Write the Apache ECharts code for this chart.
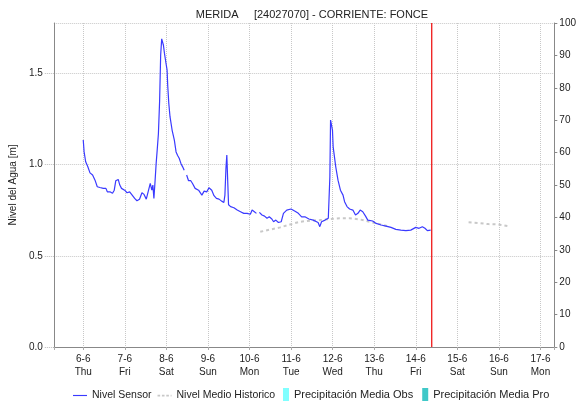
<!DOCTYPE html>
<html>
<head>
<meta charset="utf-8">
<script src="https://cdn.jsdelivr.net/npm/echarts@6/dist/echarts.min.js"></script>
<style>html,body{margin:0;padding:0;background:#fff;}#c{width:579px;height:402px;}</style>
</head>
<body>
<div id="c"></div>
<script>
// ---- data (hours counted from 6-6 00:00) ----
const titleText = 'MERIDA     [24027070] - CORRIENTE: FONCE';
const dayLabels = ['6-6','7-6','8-6','9-6','10-6','11-6','12-6','13-6','14-6','15-6','16-6','17-6'];
const weekdayLabels = ['Thu','Fri','Sat','Sun','Mon','Tue','Wed','Thu','Fri','Sat','Sun','Mon'];
const leftTicks = [0, 0.5, 1.0, 1.5];
const rightTicks = [0,10,20,30,40,50,60,70,80,90,100];

const sensorHours = [
  0, 0.5, 1.4, 2.6, 3.9, 5.4, 6.8, 8.1, 9.6, 11.6,
  13.1, 13.9, 15.4, 16.9, 17.9, 18.8, 20.2, 21.1, 22.1, 23.9,
  25.3, 26.8, 27.8, 29.7, 31.0, 32.5, 33.9, 35.1, 36.4, 37.3,
  38.7, 39.6, 40.2, 40.8, 41.5, 42.1, 42.7, 43.4, 44.1, 44.7,
  45.3, 45.8, 46.3, 46.9, 47.8, 48.4, 48.8, 49.4, 50.1, 51.3,
  52.6, 53.6, 54.5, 55.4, 56.4, 57.4, 58.3, 59.0, 59.7, 60.8,
  62.1, 63.1, 64.6, 66.6, 68.5, 69.8, 71.3, 72.6, 74.2, 75.5,
  76.9, 78.4, 79.9, 81.2, 81.8, 82.4, 82.9, 83.5, 83.9, 85.1,
  87.0, 88.9, 90.8, 92.7, 94.6, 96.5, 97.5, 98.8, 100.0, 100.8,
  101.7, 103.2, 104.7, 106.1, 107.4, 108.9, 109.9, 111.2, 112.7, 114.3,
  115.6, 117.5, 120.0, 122.3, 124.2, 126.1, 128.0, 130.3, 132.8, 135.6,
  136.6, 137.6, 139.6, 141.5, 142.4, 142.8, 143.6, 143.9, 144.3, 145.8,
  147.1, 148.5, 150.0, 150.9, 152.3, 153.8, 155.7, 157.2, 158.6, 159.9,
  161.4, 163.0, 164.3, 167.1, 169.1, 172.0, 174.8, 177.7, 180.5, 183.4,
  186.3, 189.1, 192.0, 193.9, 195.8, 197.3, 198.7, 200.6
];
const sensorLevels = [
  1.135, 1.07, 1.016, 0.99, 0.955, 0.943, 0.915, 0.879, 0.875, 0.87,
  0.87, 0.851, 0.851, 0.843, 0.86, 0.912, 0.919, 0.888, 0.87, 0.86,
  0.846, 0.851, 0.839, 0.815, 0.802, 0.81, 0.846, 0.837, 0.811, 0.81,
  0.897, 0.86, 0.888, 0.815, 0.915, 1.007, 1.08, 1.17, 1.35, 1.6,
  1.69, 1.68, 1.655, 1.61, 1.555, 1.52, 1.43, 1.336, 1.263, 1.19,
  1.135, 1.07, 1.05, 1.035, 1.007, 0.988, 0.97, null, 0.943, 0.912,
  0.912, 0.897, 0.87, 0.86, 0.833, 0.855, 0.851, 0.873, 0.86, 0.83,
  0.815, 0.811, 0.80, 0.793, 0.833, 0.98, 1.053, 0.888, 0.78, 0.77,
  0.764, 0.751, 0.742, 0.733, 0.733, 0.728, 0.751, 0.742, 0.733, null,
  0.738, 0.724, 0.718, 0.706, 0.714, 0.702, 0.687, 0.696, 0.683, 0.687,
  0.733, 0.751, 0.757, 0.745, 0.733, 0.714, 0.714, 0.702, 0.696, 0.683,
  0.66, 0.687, 0.696, 0.706, 0.934, 1.245, 1.248, 1.19, 1.098, 0.988,
  0.915, 0.86, 0.833, 0.797, 0.77, 0.757, 0.751, 0.724, 0.733, 0.751,
  0.742, 0.718, 0.696, 0.691, 0.678, 0.669, 0.663, 0.656, 0.645, 0.641,
  0.638, 0.641, 0.656, 0.651, 0.66, 0.651, 0.638, 0.641
];
const historicHours = [102.2, 107.9, 113.7, 119.4, 125.2, 130.9, 136.6, 142.4, 148.1, 153.8,
  159.6, 165.3, 171.1, 176.8, 200.0, 222.5, 228.3, 234.0, 239.7, 245.4];
const historicLevels = [0.632, 0.644, 0.656, 0.672, 0.687, 0.693, 0.696, 0.702, 0.706, 0.706,
  0.70, 0.687, 0.674, 0.66, null, 0.684, 0.68, 0.674, 0.672, 0.663];
const precipObs = [];
const precipPro = [];
const nowHour = 201.2;               // red "current time" marker
const nowMarkerRange = [0, 100];     // spans the right axis
const axisStartHour = -17;
const axisEndHour = 272;

// ---- build ----
const base = new Date(2024, 5, 6, 0, 0, 0).getTime();
const HOUR = 3600000, DAY = 86400000;
const toT = h => base + h * HOUR;
const pair = (hs, vs) => hs.map((h, i) => [toT(h), vs[i]]);

const FONT = 'Liberation Sans';
const TXT = '#222';
const RED = '#f02828';

const chart = echarts.init(document.getElementById('c'), null, {renderer: 'canvas'});
chart.setOption({
  animation: false,
  backgroundColor: '#fff',
  textStyle: {fontFamily: FONT},
  title: {
    text: titleText, left: 307, textAlign: 'center', top: 4,
    textStyle: {fontSize: 11, fontWeight: 'normal', color: TXT, fontFamily: FONT}
  },
  grid: {left: 52, right: 23, top: 23, bottom: 55, containLabel: false},
  legend: [
    {
      left: 73, top: 390, padding: 0, itemWidth: 14, itemHeight: 2, itemGap: 6,
      textStyle: {fontSize: 10.5, color: TXT, fontFamily: FONT},
      data: [
        {name: 'Nivel Sensor', icon: 'path://M0,0h16v1.3h-16z', itemStyle: {color: '#3a3aff'}},
        {name: 'Nivel Medio Historico', icon: 'path://M0,0h3v2h-3zM5,0h3v2h-3zM10,0h3v2h-3zM15,0h1v2h-1z', itemStyle: {color: '#c8c8c8'}}
      ]
    },
    {
      left: 283, top: 388, padding: 0, itemWidth: 6, itemHeight: 13, itemGap: 9, icon: 'rect',
      textStyle: {fontSize: 11, color: TXT, fontFamily: FONT},
      data: ['Precipitación Media Obs', 'Precipitación Media Pro']
    }
  ],
  xAxis: [
    {
      type: 'time', min: toT(axisStartHour), max: toT(axisEndHour),
      minInterval: DAY, maxInterval: DAY,
      axisLine: {show: true, lineStyle: {color: '#666', type: 'dotted', width: 1}},
      axisTick: {show: false},
      axisLabel: {
        showMinLabel: false, showMaxLabel: false,
        color: TXT, fontSize: 10, fontFamily: FONT, lineHeight: 13, margin: 6,
        formatter: function (v) {
          const i = Math.round((v - base) / DAY);
          if (i < 0 || i >= dayLabels.length) return '';
          return dayLabels[i] + '\n' + weekdayLabels[i];
        }
      },
      splitLine: {show: true, lineStyle: {color: '#c8c8c8', type: 'dotted', width: 1}}
    },
    {
      type: 'time', position: 'top', min: toT(axisStartHour), max: toT(axisEndHour),
      minInterval: DAY, maxInterval: DAY,
      axisLine: {show: true, lineStyle: {color: '#888', width: 1}},
      axisTick: {show: true, inside: true, length: 3, lineStyle: {color: '#aaa'}},
      axisLabel: {show: false},
      splitLine: {show: false}
    }
  ],
  yAxis: [
    {
      type: 'value', min: 0, max: 1.777, interval: 0.5,
      name: 'Nivel del Agua [m]', nameLocation: 'middle', nameGap: 22, nameRotate: 90,
      nameTextStyle: {fontSize: 10, color: TXT, fontFamily: FONT},
      axisLine: {show: true, lineStyle: {color: '#888'}},
      axisTick: {show: true, length: 10, lineStyle: {color: '#bbb', type: 'dotted'}},
      axisLabel: {
        showMaxLabel: false, margin: 11, color: TXT, fontSize: 10, fontFamily: FONT,
        formatter: v => leftTicks.indexOf(Math.round(v * 10) / 10) >= 0 ? v.toFixed(1) : ''
      },
      splitLine: {show: true, lineStyle: {color: '#c8c8c8', type: 'dotted', width: 1}}
    },
    {
      type: 'value', min: rightTicks[0], max: rightTicks[rightTicks.length - 1], interval: 10,
      position: 'right',
      axisLine: {show: true, lineStyle: {color: '#888'}},
      axisTick: {show: true, length: 3, lineStyle: {color: '#888'}},
      axisLabel: {margin: 5, color: TXT, fontSize: 10, fontFamily: FONT},
      splitLine: {show: false}
    }
  ],
  series: [
    {
      name: 'Nivel Sensor', type: 'line', xAxisIndex: 0, yAxisIndex: 0,
      data: pair(sensorHours, sensorLevels), showSymbol: false, symbol: 'none',
      connectNulls: false, z: 5,
      lineStyle: {color: '#3a3aff', width: 1.2}, itemStyle: {color: '#3a3aff'}
    },
    {
      name: 'Nivel Medio Historico', type: 'line', xAxisIndex: 0, yAxisIndex: 0,
      data: pair(historicHours, historicLevels), showSymbol: false, symbol: 'none',
      connectNulls: false, z: 3,
      lineStyle: {color: '#c8c8c8', width: 2, type: [3, 3]}, itemStyle: {color: '#c8c8c8'}
    },
    {
      name: 'Precipitación Media Obs', type: 'line', xAxisIndex: 0, yAxisIndex: 1,
      data: precipObs, symbol: 'none', itemStyle: {color: '#80ffff'}, lineStyle: {color: '#80ffff'}
    },
    {
      name: 'Precipitación Media Pro', type: 'line', xAxisIndex: 0, yAxisIndex: 1,
      data: precipPro, symbol: 'none', itemStyle: {color: '#40c8c8'}, lineStyle: {color: '#40c8c8'}
    },
    {
      name: 'Ahora', type: 'line', xAxisIndex: 0, yAxisIndex: 1, silent: true, z: 6,
      data: nowMarkerRange.map(v => [toT(nowHour), v]), symbol: 'none', showSymbol: false,
      lineStyle: {color: RED, width: 1.4}, itemStyle: {color: RED}
    }
  ]
});
</script>
</body>
</html>
